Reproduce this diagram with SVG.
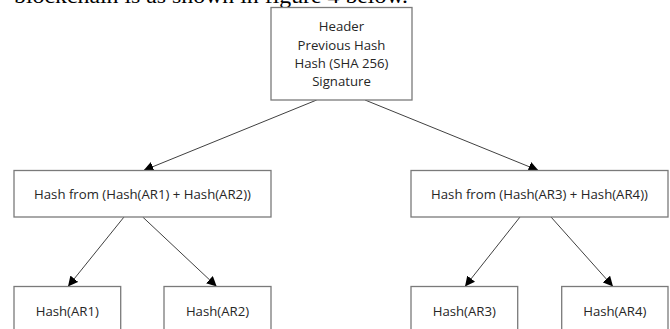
<svg xmlns="http://www.w3.org/2000/svg" width="670" height="329" viewBox="0 0 670 329">
<defs>
<style>
.box{fill:#fff;stroke:#7a7a7a;stroke-width:1.3}
.t{font-family:"Open Sans","Liberation Sans",sans-serif;font-size:13.2px;fill:#262626;text-anchor:middle}
.c{stroke:#404040;stroke-width:1;fill:none;marker-end:url(#ah)}
</style>
<marker id="ah" viewBox="0 0 10 10" refX="10" refY="5" markerWidth="10" markerHeight="10" markerUnits="userSpaceOnUse" orient="auto">
<path d="M0,0 L10,5 L0,10 z" fill="#000"/>
</marker>
</defs>
<rect width="670" height="329" fill="#fff"/>
<text x="14" y="2.5" font-family="Liberation Serif,serif" font-size="21" fill="#000" textLength="394" lengthAdjust="spacingAndGlyphs">blockchain is as shown in figure 4 below.</text>
<g id="connectors">
<line class="c" x1="316.7" y1="100" x2="143.5" y2="170.5"/>
<line class="c" x1="365" y1="100" x2="538.5" y2="170.5"/>
<line class="c" x1="124" y1="217" x2="68" y2="286.5"/>
<line class="c" x1="142.7" y1="217" x2="216.7" y2="286.5"/>
<line class="c" x1="520" y1="217" x2="465" y2="286.5"/>
<line class="c" x1="551" y1="217" x2="613" y2="286.5"/>
</g>
<g id="root">
<rect class="box" x="271" y="7.5" width="141" height="92.5"/>
<text class="t" x="341.5" y="31">Header</text>
<text class="t" x="341.5" y="49.5">Previous Hash</text>
<text class="t" x="341.5" y="68">Hash (SHA 256)</text>
<text class="t" x="341.5" y="86">Signature</text>
</g>
<g id="h12">
<rect class="box" x="14" y="170.5" width="257" height="46.5"/>
<text class="t" x="142.5" y="198.5">Hash from (Hash(AR1) + Hash(AR2))</text>
</g>
<g id="h34">
<rect class="box" x="411" y="170.5" width="257" height="46.5"/>
<text class="t" x="539.5" y="198.5">Hash from (Hash(AR3) + Hash(AR4))</text>
</g>
<g id="ar1">
<rect class="box" x="14" y="286.5" width="106.7" height="60"/>
<text class="t" x="67.3" y="315.5">Hash(AR1)</text>
</g>
<g id="ar2">
<rect class="box" x="164" y="286.5" width="107" height="60"/>
<text class="t" x="217.5" y="315.5">Hash(AR2)</text>
</g>
<g id="ar3">
<rect class="box" x="411" y="286.5" width="106.7" height="60"/>
<text class="t" x="464.3" y="315.5">Hash(AR3)</text>
</g>
<g id="ar4">
<rect class="box" x="561.7" y="286.5" width="106.3" height="60"/>
<text class="t" x="614.8" y="315.5">Hash(AR4)</text>
</g>
</svg>
